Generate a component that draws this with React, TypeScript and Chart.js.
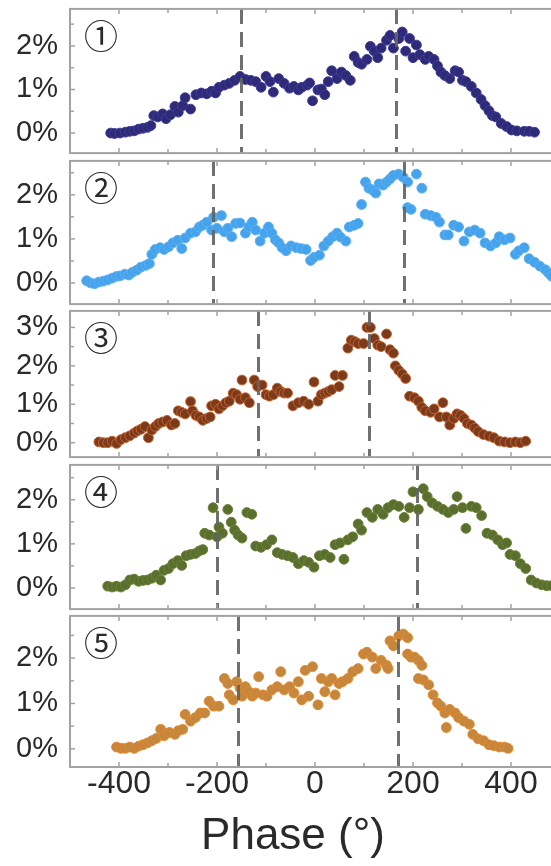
import { useEffect, useRef } from 'react';
import { Chart, registerables } from 'chart.js';

Chart.register(...registerables);

// Shared phase axis
const xTicks = [-400, -200, 0, 200, 400];
const xMinorTicks = [-300, -100, 100, 300];
const xTitle = 'Phase (°)';

// Panel ① — phase (°) and share (%)
const phase1 = [-417, -409, -398, -387, -378, -369, -360, -351, -342, -335, -329, -321, -311, -304, -295, -286, -279, -270, -265, -254, -243, -232, -221, -211, -203, -196, -185, -175, -164, -153, -142, -131, -121, -110, -100, -92, -85, -74, -63, -52, -43, -34, -27, -16, -11, -5, 6, 13, 20, 27, 34, 45, 54, 63, 72, 80, 88, 95, 106, 113, 121, 128, 135, 146, 153, 160, 171, 178, 185, 193, 200, 207, 214, 225, 232, 243, 250, 257, 265, 275, 286, 293, 301, 308, 319, 329, 339, 347, 355, 362, 369, 380, 391, 401, 412, 427, 437, 448];
const share1 = [0, -0.01, 0, 0.02, 0.04, 0.05, 0.09, 0.11, 0.13, 0.17, 0.4, 0.37, 0.44, 0.33, 0.42, 0.61, 0.48, 0.63, 0.81, 0.55, 0.88, 0.92, 0.9, 0.96, 0.92, 1.05, 1.1, 1.14, 1.21, 1.3, 1.23, 1.21, 1.18, 1.05, 1.3, 1.18, 0.94, 1.25, 1.14, 1.03, 1.07, 0.99, 1.05, 1.1, 1.15, 0.74, 0.99, 1.01, 0.88, 1.18, 1.43, 1.25, 1.4, 1.32, 1.21, 1.76, 1.62, 1.58, 1.69, 1.99, 1.88, 1.73, 1.95, 2.13, 2.24, 1.95, 2.17, 2.32, 1.88, 2.17, 1.73, 2.02, 1.8, 1.69, 1.76, 1.69, 1.54, 1.4, 1.32, 1.25, 1.43, 1.4, 1.21, 1.18, 1.07, 0.92, 0.77, 0.63, 0.51, 0.4, 0.37, 0.22, 0.15, 0.07, 0.05, 0.04, 0.04, 0.02];
const guides1 = [-152, 165];

// Panel ②
const phase2 = [-466, -458, -450, -441, -432, -423, -414, -405, -398, -388, -380, -373, -364, -355, -345, -338, -333, -326, -316, -308, -299, -290, -280, -272, -265, -254, -244, -236, -229, -221, -211, -207, -200, -191, -185, -178, -170, -162, -153, -142, -135, -128, -121, -112, -103, -95, -88, -81, -74, -67, -59, -49, -38, -28, -18, -9, -2, 9, 18, 27, 36, 45, 52, 63, 70, 80, 88, 95, 103, 110, 117, 124, 131, 139, 146, 153, 160, 171, 180, 189, 189, 196, 207, 218, 225, 236, 247, 254, 265, 272, 283, 293, 304, 315, 326, 337, 347, 358, 369, 376, 387, 398, 409, 416, 427, 437, 448, 459, 470, 477, 483];
const share2 = [0.05, 0, -0.02, 0.02, 0.04, 0.07, 0.11, 0.15, 0.16, 0.2, 0.18, 0.24, 0.29, 0.36, 0.4, 0.44, 0.65, 0.76, 0.8, 0.76, 0.82, 0.91, 0.97, 0.78, 1.02, 1.13, 1.16, 1.27, 1.31, 1.38, 1.2, 1.49, 1.24, 1.53, 1.16, 1.24, 1.05, 1.35, 1.36, 1.13, 1.27, 1.38, 1.2, 0.95, 1.13, 1.27, 1.13, 0.98, 0.91, 0.8, 0.73, 0.84, 0.8, 0.78, 0.76, 0.51, 0.58, 0.63, 0.84, 0.95, 1.05, 1.13, 1.04, 0.95, 1.27, 1.31, 1.35, 1.78, 2.29, 2.15, 2.11, 2.04, 2.25, 2.22, 2.29, 2.36, 2.44, 2.47, 2.4, 2.29, 1.71, 1.67, 2.47, 2.15, 1.56, 1.53, 1.49, 1.38, 1.09, 1.09, 1.31, 1.27, 0.95, 1.16, 1.2, 1.13, 0.91, 0.84, 0.91, 1.05, 0.98, 1.02, 0.65, 0.73, 0.8, 0.55, 0.47, 0.38, 0.3, 0.22, 0.15];
const guides2 = [-208, 182];

// Panel ③
const phase3 = [-441, -432, -423, -414, -405, -396, -387, -378, -369, -362, -355, -347, -340, -333, -326, -319, -311, -302, -293, -286, -279, -272, -265, -254, -250, -243, -236, -229, -221, -214, -211, -203, -196, -189, -182, -175, -167, -160, -153, -149, -142, -134, -124, -117, -108, -100, -93, -85, -77, -70, -63, -56, -45, -34, -23, -13, -2, 6, 13, 20, 27, 34, 41, 49, 56, 67, 74, 81, 88, 99, 106, 113, 121, 128, 135, 146, 153, 160, 164, 171, 178, 185, 193, 203, 211, 218, 225, 236, 243, 254, 261, 268, 275, 283, 290, 297, 304, 311, 319, 326, 333, 344, 355, 365, 376, 387, 398, 409, 419, 430];
const share3 = [0.02, 0, 0, 0.04, -0.02, 0.08, 0.13, 0.18, 0.25, 0.31, 0.35, 0.42, 0.13, 0.33, 0.42, 0.5, 0.54, 0.58, 0.46, 0.5, 0.83, 0.79, 0.75, 1.07, 0.83, 0.71, 0.67, 0.58, 0.63, 0.67, 0.96, 1.0, 0.88, 0.96, 1.04, 1.08, 1.29, 1.25, 1.13, 1.63, 1.17, 1.04, 1.63, 1.46, 1.5, 1.25, 1.21, 1.25, 1.42, 1.33, 1.29, 1.29, 0.96, 1.04, 1.08, 1.0, 1.58, 1.08, 1.25, 1.29, 1.33, 1.38, 1.75, 1.46, 1.75, 2.46, 2.67, 2.63, 2.58, 2.58, 3.0, 3.0, 2.71, 2.54, 2.5, 2.83, 2.42, 2.33, 2.0, 1.88, 1.79, 1.67, 1.21, 1.17, 1.08, 0.92, 0.83, 0.79, 0.88, 0.67, 1.04, 0.67, 0.46, 0.63, 0.75, 0.71, 0.63, 0.5, 0.46, 0.38, 0.29, 0.21, 0.17, 0.13, 0.04, 0.02, 0, 0.02, 0, 0.04];
const guides3 = [-116, 110];

// Panel ④
const phase4 = [-423, -414, -405, -396, -387, -378, -369, -360, -351, -342, -333, -324, -315, -308, -299, -290, -280, -272, -263, -254, -244, -236, -229, -225, -216, -208, -200, -196, -189, -178, -171, -164, -157, -149, -139, -129, -121, -110, -99, -88, -77, -67, -56, -45, -34, -23, -13, -2, 9, 20, 31, 41, 51, 59, 67, 77, 88, 95, 106, 117, 128, 139, 149, 160, 171, 182, 193, 200, 211, 221, 229, 239, 250, 261, 272, 283, 290, 301, 308, 319, 329, 340, 351, 362, 373, 383, 391, 398, 409, 419, 430, 441, 452, 463, 473, 483];
const share4 = [0.04, 0.02, 0.04, 0.02, 0.07, 0.18, 0.2, 0.15, 0.17, 0.18, 0.22, 0.29, 0.18, 0.4, 0.44, 0.55, 0.62, 0.51, 0.73, 0.76, 0.78, 0.84, 0.87, 1.24, 1.2, 1.82, 1.16, 1.38, 1.24, 1.78, 1.49, 1.31, 1.2, 1.13, 1.71, 1.67, 0.95, 0.92, 0.98, 1.09, 0.8, 0.76, 0.73, 0.69, 0.55, 0.62, 0.58, 0.47, 0.73, 0.76, 0.69, 0.98, 1.02, 0.65, 1.09, 1.16, 1.45, 1.31, 1.71, 1.6, 1.78, 1.67, 1.82, 1.89, 1.85, 1.6, 1.82, 2.18, 1.78, 2.25, 2.07, 1.93, 1.85, 1.78, 1.71, 1.78, 2.07, 1.82, 1.35, 1.85, 1.82, 1.64, 1.24, 1.2, 1.09, 0.98, 1.02, 0.76, 0.73, 0.55, 0.44, 0.18, 0.11, 0.07, 0.05, 0.05];
const guides4 = [-200, 209];

// Panel ⑤
const phase5 = [-405, -396, -387, -378, -369, -360, -351, -342, -333, -324, -315, -308, -297, -286, -279, -270, -265, -254, -244, -234, -225, -216, -207, -196, -185, -178, -175, -167, -160, -153, -149, -142, -135, -128, -121, -115, -106, -98, -88, -77, -70, -63, -52, -43, -34, -27, -20, -13, -5, 6, 13, 20, 27, 34, 41, 49, 56, 67, 77, 88, 99, 106, 117, 124, 135, 146, 149, 153, 160, 171, 180, 189, 189, 196, 203, 211, 218, 211, 221, 232, 241, 250, 257, 265, 268, 275, 286, 293, 304, 315, 322, 333, 344, 355, 365, 376, 387, 394];
const share5 = [0.04, 0.01, 0.01, 0.04, 0.01, 0.06, 0.09, 0.13, 0.18, 0.23, 0.43, 0.29, 0.36, 0.32, 0.4, 0.43, 0.76, 0.61, 0.69, 0.79, 0.79, 1.05, 0.94, 0.94, 1.55, 1.44, 1.19, 1.08, 1.48, 1.34, 1.16, 1.37, 1.26, 1.16, 1.23, 1.59, 1.19, 1.16, 1.3, 1.37, 1.7, 1.3, 1.37, 1.23, 1.48, 1.08, 1.73, 1.16, 1.81, 0.97, 1.55, 1.26, 1.48, 1.55, 1.19, 1.44, 1.48, 1.55, 1.7, 1.77, 2.09, 2.13, 2.02, 1.77, 1.95, 1.84, 1.77, 2.38, 2.27, 2.49, 2.53, 2.45, 2.09, 2.02, 2.02, 1.95, 1.84, 1.55, 1.52, 1.41, 1.19, 1.01, 0.94, 0.79, 0.47, 0.87, 0.79, 0.69, 0.61, 0.54, 0.32, 0.22, 0.18, 0.09, 0.07, 0.04, 0.04, 0.01];
const guides5 = [-158, 170];

// Percent ticks per panel
const yTicksLow = [0, 1, 2];
const yTicksHigh = [0, 1, 2, 3];
const yMinorTicks = [0.5, 1.5, 2.5];

const PLOT_LEFT = 70;
const PLOT_RIGHT = 560;
const CANVAS_W = 570;
const PAD = 3;
const PAGE_H = 866;
const TITLE_X = 293;
const TITLE_FROM_BOTTOM = 29;
const FRAME = '#a2a2a2';
const TEXT = '#2a2a2a';
const FONT = '"Liberation Sans", Arial, sans-serif';

type Panel = {
  label: string;
  phase: number[];
  share: number[];
  guides: number[];
  yMin: number;
  yMax: number;
  yTicks: number[];
  fill: string;
  edge: string;
  top: number;
  bottom: number;
};

const panels: Panel[] = [
  { label: '①', phase: phase1, share: share1, guides: guides1, yMin: -0.46, yMax: 2.85, yTicks: yTicksLow, fill: '#2e2a78', edge: '#3d3b98', top: 6, bottom: 156 },
  { label: '②', phase: phase2, share: share2, guides: guides2, yMin: -0.48, yMax: 2.77, yTicks: yTicksLow, fill: '#45a2ec', edge: '#5cb0f0', top: 158, bottom: 307 },
  { label: '③', phase: phase3, share: share3, guides: guides3, yMin: -0.375, yMax: 3.43, yTicks: yTicksHigh, fill: '#7c3a1c', edge: '#c2622c', top: 308, bottom: 460 },
  { label: '④', phase: phase4, share: share4, guides: guides4, yMin: -0.48, yMax: 2.79, yTicks: yTicksLow, fill: '#5a6f2d', edge: '#6c8238', top: 462, bottom: 612 },
  { label: '⑤', phase: phase5, share: share5, guides: guides5, yMin: -0.4, yMax: 2.93, yTicks: yTicksLow, fill: '#c4873e', edge: '#e6862a', top: 613, bottom: 767 },
];

// Frame, inward ticks, dashed guides, the circled panel number and the axis title
const panelDeco = {
  id: 'panelDeco',
  afterDatasetsDraw(chart: any, _args: any, opts: any) {
    const { ctx, chartArea: a, scales } = chart;
    const xs = scales.x;
    const ys = scales.y;
    ctx.save();

    ctx.strokeStyle = 'rgba(100,100,100,0.92)';
    ctx.lineWidth = 3;
    ctx.setLineDash([15, 8]);
    for (const g of opts.guides as number[]) {
      const px = Math.round(xs.getPixelForValue(g)) + 0.5;
      ctx.beginPath();
      ctx.moveTo(px, a.top);
      ctx.lineTo(px, a.bottom);
      ctx.stroke();
    }
    ctx.setLineDash([]);

    ctx.strokeStyle = FRAME;
    ctx.lineWidth = 1.5;
    const seg = (x1: number, y1: number, x2: number, y2: number) => {
      ctx.beginPath();
      ctx.moveTo(x1, y1);
      ctx.lineTo(x2, y2);
      ctx.stroke();
    };
    for (const v of xTicks) {
      const px = xs.getPixelForValue(v);
      seg(px, a.bottom, px, a.bottom - 5);
      seg(px, a.top, px, a.top + 5);
    }
    for (const v of xMinorTicks) {
      const px = xs.getPixelForValue(v);
      seg(px, a.bottom, px, a.bottom - 4);
      seg(px, a.top, px, a.top + 4);
    }
    for (const v of opts.yTicks as number[]) {
      const py = ys.getPixelForValue(v);
      seg(a.left, py, a.left + 5, py);
    }
    for (const v of yMinorTicks) {
      if (v > ys.max) continue;
      const py = ys.getPixelForValue(v);
      seg(a.left, py, a.left + 4, py);
    }

    ctx.lineWidth = 2;
    ctx.strokeRect(a.left, a.top, a.right - a.left, a.bottom - a.top);

    ctx.fillStyle = TEXT;
    ctx.font = '34px "Noto Sans CJK JP", "DejaVu Sans", sans-serif';
    ctx.textAlign = 'center';
    ctx.textBaseline = 'middle';
    ctx.fillText(opts.label, a.left + 31, a.top + 27);

    if (opts.title) {
      ctx.font = `44px ${FONT}`;
      ctx.fillText(opts.title, TITLE_X, chart.height - TITLE_FROM_BOTTOM);
    }
    ctx.restore();
  },
};

function PanelChart({ panel, last }: { panel: Panel; last: boolean }) {
  const ref = useRef<HTMLCanvasElement>(null);
  const axisH = PAGE_H - panel.bottom;
  const height = last ? PAGE_H - panel.top + PAD : panel.bottom - panel.top + 2 * PAD;

  useEffect(() => {
    if (!ref.current) return;
    const chart = new Chart(ref.current, {
      type: 'scatter',
      data: {
        datasets: [
          {
            data: panel.phase.map((p, i) => ({ x: p, y: panel.share[i] })),
            backgroundColor: panel.fill,
            borderColor: panel.edge,
            borderWidth: 1,
            pointRadius: 4.9,
            pointHoverRadius: 4.9,
          },
        ],
      },
      plugins: [panelDeco],
      options: {
        responsive: false,
        animation: false,
        devicePixelRatio: 1,
        events: [],
        layout: { padding: { left: 0, right: CANVAS_W - PLOT_RIGHT, top: PAD, bottom: last ? 0 : PAD } },
        plugins: {
          legend: { display: false },
          tooltip: { enabled: false },
          panelDeco: { guides: panel.guides, yTicks: panel.yTicks, label: panel.label, title: last ? xTitle : '' },
        } as any,
        scales: {
          x: {
            type: 'linear',
            min: -500,
            max: 500,
            display: last,
            grid: { display: false, drawTicks: false },
            border: { display: false },
            afterBuildTicks: (s: any) => {
              s.ticks = xTicks.map((v) => ({ value: v }));
            },
            afterFit: (s: any) => {
              s.height = last ? axisH : 0;
              s.paddingLeft = 0;
              s.paddingRight = 0;
            },
            ticks: {
              padding: 1,
              color: TEXT,
              maxRotation: 0,
              autoSkip: false,
              font: { family: FONT, size: 32, lineHeight: 1 },
              callback: (v: any) => String(v),
            },
          },
          y: {
            type: 'linear',
            min: panel.yMin,
            max: panel.yMax,
            grid: { display: false, drawTicks: false },
            border: { display: false },
            afterBuildTicks: (s: any) => {
              s.ticks = panel.yTicks.map((v) => ({ value: v }));
            },
            afterFit: (s: any) => {
              s.width = PLOT_LEFT;
              s.paddingTop = 0;
              s.paddingBottom = 0;
            },
            ticks: {
              padding: 12,
              color: TEXT,
              font: { family: FONT, size: 29, lineHeight: 1 },
              callback: (v: any) => `${v}%`,
            },
          },
        },
      },
    });
    return () => chart.destroy();
  }, [panel, last, axisH]);

  return (
    <canvas
      ref={ref}
      width={CANVAS_W}
      height={height}
      style={{ position: 'absolute', left: 0, top: panel.top - PAD, width: CANVAS_W, height }}
    />
  );
}

export default function App() {
  return (
    <div
      style={{
        position: 'fixed',
        left: 0,
        top: 0,
        width: 551,
        height: PAGE_H,
        overflow: 'hidden',
        background: '#ffffff',
      }}
    >
      {panels.map((p, i) => (
        <PanelChart key={i} panel={p} last={i === panels.length - 1} />
      ))}
    </div>
  );
}
